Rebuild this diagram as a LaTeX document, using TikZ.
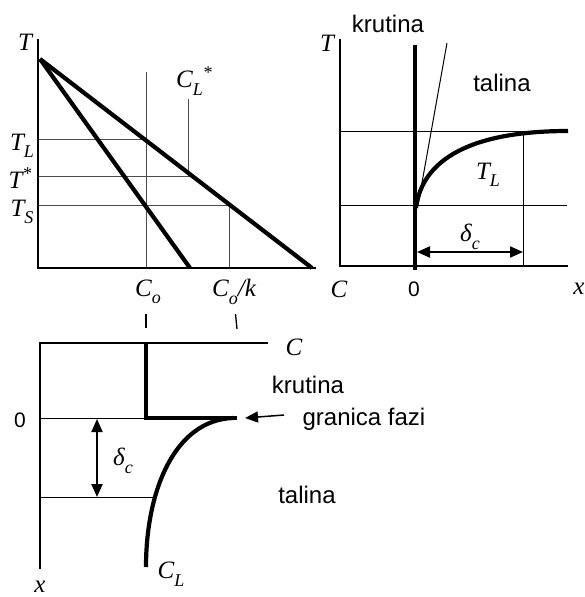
\documentclass[tikz,border=0pt]{standalone}
\usepackage{fontspec}
\setmainfont{Liberation Serif}
\newfontfamily\sansf{Liberation Sans}
\usetikzlibrary{arrows.meta}
\newcommand\lsub[1]{\raisebox{-0.3em}{\fontsize{18}{18}\selectfont #1}}
\newcommand\lsup[1]{\raisebox{0.35em}{\fontsize{18}{18}\selectfont #1}}
\tikzset{
  axisline/.style={line width=2pt, line cap=rect},
  heavy/.style={line width=4.2pt},
  thinl/.style={line width=1pt, black!70},
  lab/.style={font=\fontsize{25}{27}\selectfont\itshape, inner sep=0pt},
  txt/.style={font=\sansf\fontsize{24}{26}\selectfont, inner sep=0pt},
  num/.style={font=\sansf\fontsize{21}{23}\selectfont, inner sep=0pt},
  dblarrow/.style={line width=2pt, {Triangle[length=13pt,width=11pt]}-{Triangle[length=13pt,width=11pt]}},
}
\begin{document}
\begin{tikzpicture}[x=1pt,y=-1pt]
\useasboundingbox (0,0) rectangle (584,597);
% ---------- top-left: phase diagram ----------
\coordinate (tlT) at (38,40);
\coordinate (tlO) at (38,268);
\coordinate (tlX) at (315,268);
\coordinate (apex) at (40,59);
\coordinate (sol) at (190,268);
\coordinate (liq) at (312,268);
\draw[thinl] (146,72) -- (146,268);
\draw[thinl] (38,139) -- (145,139);
\draw[thinl] (38,176) -- (190,176);
\draw[thinl] (38,205) -- (229,205);
\draw[thinl] (188,99) -- (188,176);
\draw[thinl] (229,205) -- (229,268);
\draw[axisline] (tlT) -- (tlO) -- (tlX);
\draw[heavy] (apex) -- (sol);
\draw[heavy] (apex) -- (liq);
\node[lab] (lT) at (25,42) {T};
\node[lab] (lTL) at (22,146) {T\lsub{L}};
\node[lab] (lTs) at (20,178) {T\lsup{*}};
\node[lab] (lTS) at (22,212) {T\lsub{S}};
\node[lab] (lCL) at (194,81) {C\lsub{L}\lsup{*}};
\node[lab] (lCo) at (148,292) {C\lsub{o}};
\node[lab] (lCok) at (234,292) {C\lsub{o}/k};
% ticks
\draw[line width=1.3pt] (146,314) -- (146,328);
\draw[line width=1.3pt] (235.5,314) -- (237,329);
% ---------- top-right ----------
\coordinate (trT) at (340,40);
\coordinate (trO) at (340,266);
\coordinate (trX) at (567,266);
\draw[thinl, black] (340,131) -- (567,131);
\draw[thinl, black] (340,205) -- (567,205);
\draw[thinl, black] (523,131) -- (523,266);
\draw[line width=1pt] (418,205) -- (447,43);
\draw[axisline] (trT) -- (trO) -- (trX);
\draw[heavy] (415,45) -- (415,270);
\draw[heavy] (416,208) .. controls (422,160) and (470,131) .. (568,131);
\coordinate (d1a) at (417,252);
\coordinate (d1b) at (523,252);
\draw[dblarrow] (d1a) -- (d1b);
\node[lab] (rT) at (327,43) {T};
\node[txt] (rkr) at (388,24) {krutina};
\node[txt] (rta) at (502,83) {talina};
\node[lab] (rTL) at (488,175) {T\lsub{L}};
\node[lab] (rdc) at (470,237) {δ\lsub{c}};
\node[lab] (rC) at (339,289) {C};
\node[num] (r0) at (414,289) {0};
\node[lab] (rx) at (579,289) {x};
% ---------- bottom ----------
\coordinate (bC) at (267,343);
\coordinate (bO) at (40,343);
\coordinate (bX) at (40,568);
\draw[thinl, black] (40,418) -- (146,418);
\draw[thinl, black] (40,497) -- (153,497);
\draw[axisline] (bC) -- (bO) -- (bX);
\draw[heavy] (146,343) -- (146,418) -- (237,418);
\draw[heavy] (146,567) .. controls (146,490) and (175,420) .. (233,418);
\coordinate (d2a) at (97,419);
\coordinate (d2b) at (97,497);
\draw[dblarrow] (d2a) -- (d2b);
\node[lab] (bCl) at (294,347) {C};
\node[txt] (bkr) at (308,385) {krutina};
\node[txt] (bgr) at (364,419) {granica fazi};
\node[num] (b0) at (20,420) {0};
\node[lab] (bdc) at (123,461) {δ\lsub{c}};
\node[txt] (bta) at (307,495) {talina};
\node[lab] (bCL) at (171,574) {C\lsub{L}};
\node[lab] (bx) at (40,587) {x};
\coordinate (garr) at (284,415);
\coordinate (gtip) at (245,418);
\draw[line width=1.5pt, -{Triangle[length=13pt,width=11pt]}] (garr) -- (gtip);
\end{tikzpicture}
\end{document}
